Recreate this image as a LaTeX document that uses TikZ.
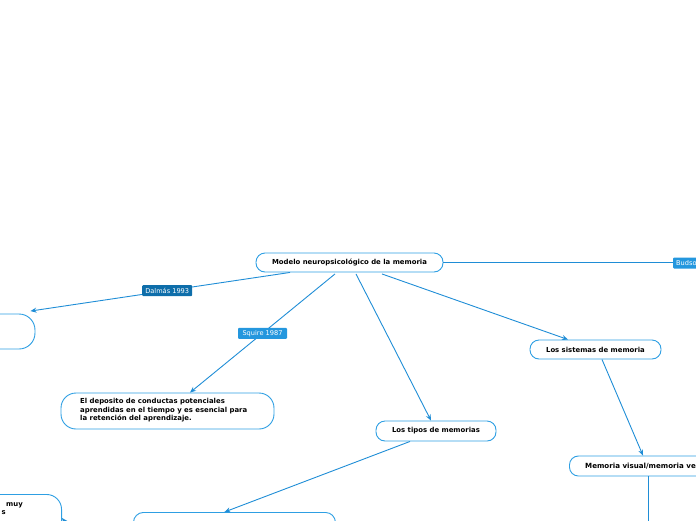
\documentclass[tikz,border=0pt]{standalone}
\usepackage{fontspec}
\setmainfont{DejaVu Sans}
\usetikzlibrary{arrows.meta,calc}
\definecolor{nodeblue}{HTML}{2E9FE3}
\definecolor{linkblue}{HTML}{1F8DD6}
\definecolor{dark}{HTML}{0E6EAA}
\definecolor{midblue}{HTML}{2497DE}
\tikzset{
  topic/.style={draw=nodeblue, line width=0.9pt, fill=white, rounded corners=9pt, inner sep=0pt, font=\fontsize{6.9}{8.2}\selectfont\bfseries, text=black},
  tx/.style={inner sep=0pt, font=\fontsize{6.9}{8.2}\selectfont\bfseries, text=black},
  lab/.style={rounded corners=1pt, inner sep=0pt, minimum height=11pt, font=\fontsize{6.6}{7}\selectfont, text=white},
  conn/.style={draw=linkblue, line width=0.9pt, -{Stealth[length=6pt,width=5pt]}},
  plain/.style={draw=linkblue, line width=0.9pt}
}
\begin{document}
\begin{tikzpicture}[x=1pt,y=-1pt]
\useasboundingbox (0,0) rectangle (696,520);
\clip (0,0) rectangle (696,520);
% nodes
\node[topic, minimum width=187pt, minimum height=19pt] (main) at (349.5,262.5) {Modelo neuropsicológico de la memoria};
\node[topic, rounded corners=16pt, minimum width=80pt, minimum height=35pt] (left) at (-5,331.5) {};
\node[topic, rounded corners=15pt, minimum width=213pt, minimum height=36pt] (dep) at (167.5,411) {};
\node[tx, anchor=north west, align=left] (dept) at (80,398.5) {El deposito de conductas potenciales\\aprendidas en el tiempo y es esencial para\\la retención del aprendizaje.};
\node[topic, minimum width=120pt, minimum height=20pt] (tipos) at (436,431) {Los tipos de memorias};
\node[topic, minimum width=131pt, minimum height=19pt] (sist) at (595.5,349.5) {Los sistemas de memoria};
\node[topic, minimum width=180pt, minimum height=20pt, anchor=west] (mv) at (569,466) {};
\node[tx, anchor=west, font=\fontsize{7.1}{8.2}\selectfont\bfseries] (mvt) at (585,466.5) {Memoria visual/memoria ve};
\node[topic, rounded corners=10pt, minimum width=202pt, minimum height=40pt, anchor=north west] (bot) at (133,512) {};
\node[topic, rounded corners=15pt, minimum width=100pt, minimum height=50pt, anchor=north east] (bl) at (62,494) {};
\node[tx, anchor=west] (blt1) at (6,505) {muy};
\node[tx, anchor=east] (blt2) at (6,513) {s};
% connectors
\draw[conn] ([xshift=-59.5pt]main.south) -- node[lab, fill=dark, minimum width=50pt, pos=0.473] (dal) {Dalmás 1993} ([xshift=-5pt,yshift=2.5pt]left.north east);
\draw[conn] ([xshift=-14.5pt,yshift=-1.5pt]main.south) -- node[lab, fill=midblue, minimum width=49pt, pos=0.5] (squ) {Squire 1987} ([xshift=22.5pt]dep.north);
\draw[conn] ([xshift=6.5pt,yshift=-1.5pt]main.south) -- ([xshift=-5pt]tipos.north);
\draw[conn] ([xshift=32.5pt,yshift=-1.5pt]main.south) -- ([xshift=-27.5pt]sist.north);
\node[lab, fill=midblue, minimum width=40pt, anchor=west, text width=34pt, align=left] (bud) at (673,263) {Budso};
\draw[plain] (main.east) -- (main.east -| bud.west);
\draw[conn] ([xshift=6.5pt]sist.south) -- ([xshift=74pt]mv.north west);
\coordinate (mvdown) at (648,545);
\draw[plain] ([xshift=79pt]mv.south west) -- (mvdown);
\draw[conn] ([xshift=-26pt]tipos.south) -- ([xshift=-10pt]bot.north);
\coordinate (blsrc) at (95,560);
\draw[conn] (blsrc) -- ([yshift=-24pt]bl.north east);
\end{tikzpicture}
\end{document}
